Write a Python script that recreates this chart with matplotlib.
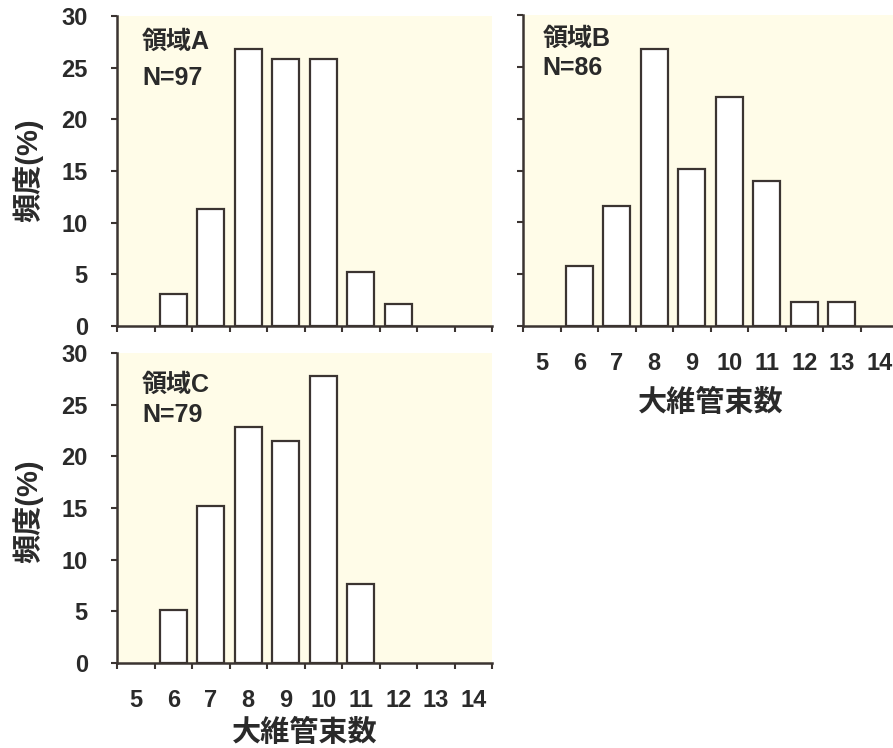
import matplotlib
matplotlib.use("Agg")
import matplotlib.pyplot as plt
import numpy as np

plt.rcParams['font.family'] = ['Liberation Sans', 'Noto Sans CJK JP', 'DejaVu Sans']
plt.rcParams['font.weight'] = 'bold'

categories = [5, 6, 7, 8, 9, 10, 11, 12, 13, 14]
tick_labels = [str(c) for c in categories]

freq_A = [0, 3.1, 11.3, 26.8, 25.8, 25.8, 5.2, 2.1, 0, 0]
freq_B = [0, 5.8, 11.6, 26.7, 15.1, 22.1, 14.0, 2.3, 2.3, 0]
freq_C = [0, 5.1, 15.2, 22.8, 21.5, 27.8, 7.6, 0, 0, 0]

titles = ["領域A", "領域B", "領域C"]
counts = ["N=97", "N=86", "N=79"]
ylabel = "頻度(%)"
xlabel = "大維管束数"

W, H = 893, 748
fig = plt.figure(figsize=(W / 100, H / 100), dpi=100)
fig.patch.set_facecolor('white')

bg = '#fffce8'
ink = '#3b3431'
txt = '#2a2a2a'

def px_axes(left, top, right, bottom):
    return fig.add_axes([left / W, 1 - bottom / H, (right - left) / W, (bottom - top) / H])

axA = px_axes(117, 16, 492, 326)
axB = px_axes(523, 15, 898, 326)
axC = px_axes(117, 353, 492, 663)

panels = [
    (axA, freq_A, True, False, (0.067, 0.915, 0.80)),
    (axB, freq_B, False, True, (0.053, 0.923, 0.83)),
    (axC, freq_C, True, True, (0.067, 0.897, 0.80)),
]

for i, (ax, vals, ylabels_on, xlabels_on, tpos) in enumerate(panels):
    ax.set_facecolor(bg)
    x = np.array(categories)
    v = np.array(vals)
    m = v > 0
    ax.bar(x[m], v[m], width=0.72, color='white', edgecolor=ink, linewidth=1.6, zorder=3)
    ax.set_xlim(4.5, 14.5)
    ax.set_ylim(0, 30)
    for s in ['top', 'right']:
        ax.spines[s].set_visible(False)
    for s in ['left', 'bottom']:
        ax.spines[s].set_color(ink)
        ax.spines[s].set_linewidth(1.8)
        ax.spines[s].set_zorder(4)
    ax.set_yticks([0, 5, 10, 15, 20, 25, 30])
    ax.tick_params(axis='y', direction='out', length=4, width=1.5, color=ink,
                   labelsize=17, pad=17, labelleft=ylabels_on, labelcolor=txt)
    ax.set_xticks(np.arange(4.5, 15.0, 1.0))
    ax.set_xticklabels([])
    ax.tick_params(axis='x', which='major', direction='out', length=4, width=1.5, color=ink)
    ax.set_xticks(categories, minor=True)
    if xlabels_on:
        ax.set_xticklabels(tick_labels, minor=True)
    ax.tick_params(axis='x', which='minor', length=0, labelsize=17, pad=19, labelcolor=txt)
    for lab in ax.get_xticklabels(minor=True) + ax.get_yticklabels():
        lab.set_fontweight('bold')
    ax.text(tpos[0], tpos[1], titles[i], transform=ax.transAxes, fontsize=18,
            ha='left', va='center', color=txt, fontweight='bold')
    ax.text(tpos[0], tpos[2], counts[i], transform=ax.transAxes, fontsize=18,
            ha='left', va='center', color=txt, fontweight='bold')

fig.text(28 / W, 1 - 170 / H, ylabel, rotation=90, ha='center', va='center',
         fontsize=21, fontweight='bold', color=txt)
fig.text(28 / W, 1 - 511 / H, ylabel, rotation=90, ha='center', va='center',
         fontsize=21, fontweight='bold', color=txt)
fig.text(710.5 / W, 1 - 403 / H, xlabel, ha='center', va='center',
         fontsize=21, fontweight='bold', color=txt)
fig.text(304.5 / W, 1 - 733 / H, xlabel, ha='center', va='center',
         fontsize=21, fontweight='bold', color=txt)

fig.savefig('out.png', dpi=100, facecolor='white')
